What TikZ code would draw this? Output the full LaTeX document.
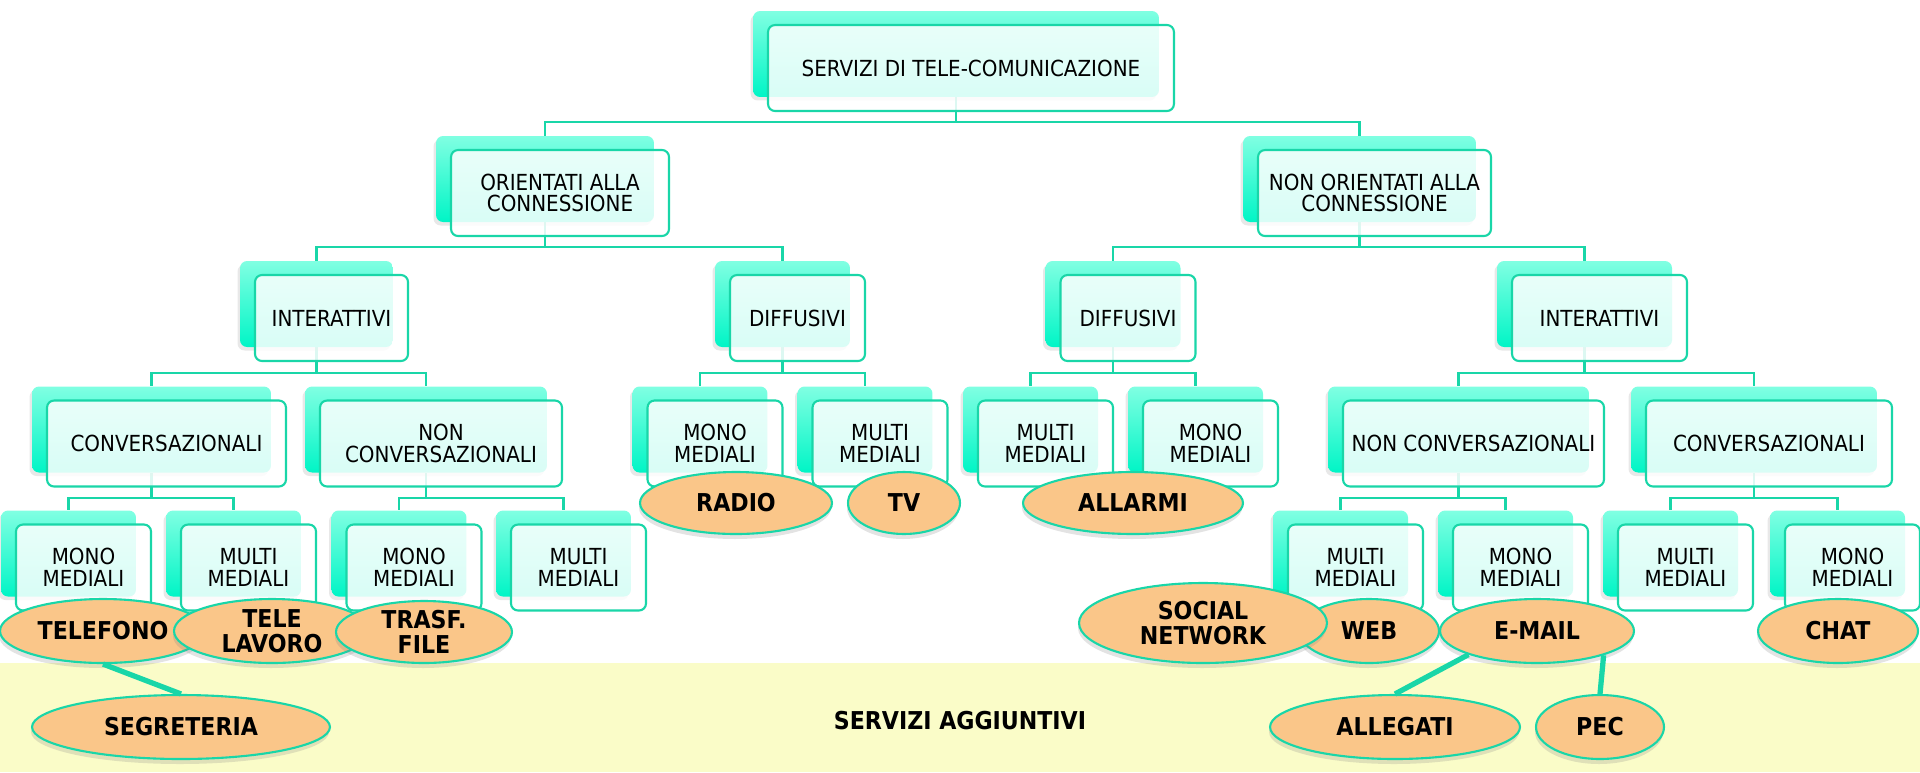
\documentclass[tikz,border=0pt]{standalone}
\usepackage{fontspec}
\setmainfont{DejaVu Sans Condensed}
\usetikzlibrary{shapes.geometric,shadows,backgrounds}
\definecolor{aqtop}{RGB}{128,255,226}
\definecolor{aqbot}{RGB}{0,245,198}
\definecolor{tealb}{RGB}{25,214,168}
\definecolor{ovalc}{RGB}{250,198,137}
\definecolor{bandc}{RGB}{250,252,200}
\begin{document}
\begin{tikzpicture}[x=0.02cm, y=-0.02cm,
  backbox/.style={rectangle, rounded corners=0.14cm, top color=aqtop, bottom color=aqbot, minimum width=2.7cm, minimum height=1.72cm, inner sep=0pt, drop shadow={shadow xshift=-0.05cm, shadow yshift=-0.07cm, opacity=0.18}},
  frontbox/.style={rectangle, rounded corners=0.14cm, draw=tealb, line width=1.2pt, fill=white, fill opacity=0.85, text opacity=1, minimum width=2.7cm, minimum height=1.72cm, inner sep=0pt, align=center, font=\fontsize{12.6}{12.4}\selectfont},
  oval/.style={ellipse, draw=tealb, line width=1.2pt, fill=ovalc, inner sep=0pt, align=center, minimum height=1.28cm, font=\bfseries\fontsize{14}{14.4}\selectfont, drop shadow={shadow xshift=-0.02cm, shadow yshift=-0.1cm, opacity=0.22}},
  link/.style={draw=tealb, line width=1.2pt},
  tie/.style={draw=tealb, line width=3pt}]
\useasboundingbox (0,0) rectangle (1920,772);
% fascia servizi aggiuntivi
\fill[bandc] (0,663) rectangle (1920,772);
\node[font=\bfseries\fontsize{14}{14.4}\selectfont] (agg) at (960,721) {SERVIZI AGGIUNTIVI};
% livello 1
\node[backbox, minimum width=8.12cm] (top-b) at (956,54) {};
\node[frontbox, minimum width=8.12cm] (top) at ([shift={(15,14)}]top-b) {SERVIZI DI TELE-COMUNICAZIONE};
% livello 2
\node[backbox, minimum width=4.36cm] (ori-b) at (545,179) {};
\node[frontbox, minimum width=4.36cm] (ori) at ([shift={(15,14)}]ori-b) {ORIENTATI ALLA\\CONNESSIONE};
\node[backbox, minimum width=4.66cm] (nori-b) at (1359.5,179) {};
\node[frontbox, minimum width=4.66cm] (nori) at ([shift={(15,14)}]nori-b) {NON ORIENTATI ALLA\\CONNESSIONE};
% livello 3
\node[backbox, minimum width=3.06cm] (intL-b) at (316.5,304) {};
\node[frontbox, minimum width=3.06cm] (intL) at ([shift={(15,14)}]intL-b) {INTERATTIVI};
\node[backbox] (difL-b) at (782.5,304) {};
\node[frontbox] (difL) at ([shift={(15,14)}]difL-b) {DIFFUSIVI};
\node[backbox] (difR-b) at (1113,304) {};
\node[frontbox] (difR) at ([shift={(15,14)}]difR-b) {DIFFUSIVI};
\node[backbox, minimum width=3.5cm] (intR-b) at (1584.5,304) {};
\node[frontbox, minimum width=3.5cm] (intR) at ([shift={(15,14)}]intR-b) {INTERATTIVI};
% livello 4
\node[backbox, minimum width=4.78cm] (convL-b) at (151.5,429.5) {};
\node[frontbox, minimum width=4.78cm] (convL) at ([shift={(15,14)}]convL-b) {CONVERSAZIONALI};
\node[backbox, minimum width=4.84cm] (nconvL-b) at (426,429.5) {};
\node[frontbox, minimum width=4.84cm] (nconvL) at ([shift={(15,14)}]nconvL-b) {NON\\CONVERSAZIONALI};
\node[backbox] (monoA-b) at (700,429.5) {};
\node[frontbox] (monoA) at ([shift={(15,14)}]monoA-b) {MONO\\MEDIALI};
\node[backbox] (multiA-b) at (865,429.5) {};
\node[frontbox] (multiA) at ([shift={(15,14)}]multiA-b) {MULTI\\MEDIALI};
\node[backbox] (multiB-b) at (1030.5,429.5) {};
\node[frontbox] (multiB) at ([shift={(15,14)}]multiB-b) {MULTI\\MEDIALI};
\node[backbox] (monoB-b) at (1195.5,429.5) {};
\node[frontbox] (monoB) at ([shift={(15,14)}]monoB-b) {MONO\\MEDIALI};
\node[backbox, minimum width=5.22cm] (nconvR-b) at (1458.5,429.5) {};
\node[frontbox, minimum width=5.22cm] (nconvR) at ([shift={(15,14)}]nconvR-b) {NON CONVERSAZIONALI};
\node[backbox, minimum width=4.92cm] (convR-b) at (1754,429.5) {};
\node[frontbox, minimum width=4.92cm] (convR) at ([shift={(15,14)}]convR-b) {CONVERSAZIONALI};
% livello 5
\node[backbox] (mono1-b) at (68.5,553.5) {};
\node[frontbox] (mono1) at ([shift={(15,14)}]mono1-b) {MONO\\MEDIALI};
\node[backbox] (multi1-b) at (233.5,553.5) {};
\node[frontbox] (multi1) at ([shift={(15,14)}]multi1-b) {MULTI\\MEDIALI};
\node[backbox] (mono2-b) at (399,553.5) {};
\node[frontbox] (mono2) at ([shift={(15,14)}]mono2-b) {MONO\\MEDIALI};
\node[backbox] (multi2-b) at (563.5,553.5) {};
\node[frontbox] (multi2) at ([shift={(15,14)}]multi2-b) {MULTI\\MEDIALI};
\node[backbox] (multi3-b) at (1340.5,553.5) {};
\node[frontbox] (multi3) at ([shift={(15,14)}]multi3-b) {MULTI\\MEDIALI};
\node[backbox] (mono3-b) at (1505.5,553.5) {};
\node[frontbox] (mono3) at ([shift={(15,14)}]mono3-b) {MONO\\MEDIALI};
\node[backbox] (multi4-b) at (1670.5,553.5) {};
\node[frontbox] (multi4) at ([shift={(15,14)}]multi4-b) {MULTI\\MEDIALI};
\node[backbox] (mono4-b) at (1837.5,553.5) {};
\node[frontbox] (mono4) at ([shift={(15,14)}]mono4-b) {MONO\\MEDIALI};
% collegamenti
\begin{scope}[on background layer]
\draw[link] (top-b) -- (top-b |- 0,122) -| (ori-b.north);
\draw[link] (top-b |- 0,122) -| (nori-b.north);
\draw[link] (ori-b) -- (ori-b |- 0,247) -| (intL-b.north);
\draw[link] (ori-b |- 0,247) -| (difL-b.north);
\draw[link] (nori-b) -- (nori-b |- 0,247) -| (difR-b.north);
\draw[link] (nori-b |- 0,247) -| (intR-b.north);
\draw[link] (intL-b) -- (intL-b |- 0,373) -| (convL-b.north);
\draw[link] (intL-b |- 0,373) -| (nconvL-b.north);
\draw[link] (difL-b) -- (difL-b |- 0,373) -| (monoA-b.north);
\draw[link] (difL-b |- 0,373) -| (multiA-b.north);
\draw[link] (difR-b) -- (difR-b |- 0,373) -| (multiB-b.north);
\draw[link] (difR-b |- 0,373) -| (monoB-b.north);
\draw[link] (intR-b) -- (intR-b |- 0,373) -| (nconvR-b.north);
\draw[link] (intR-b |- 0,373) -| (convR-b.north);
\draw[link] (convL-b) -- (convL-b |- 0,498) -| (mono1-b.north);
\draw[link] (convL-b |- 0,498) -| (multi1-b.north);
\draw[link] (nconvL-b) -- (nconvL-b |- 0,498) -| (mono2-b.north);
\draw[link] (nconvL-b |- 0,498) -| (multi2-b.north);
\draw[link] (nconvR-b) -- (nconvR-b |- 0,498) -| (multi3-b.north);
\draw[link] (nconvR-b |- 0,498) -| (mono3-b.north);
\draw[link] (convR-b) -- (convR-b |- 0,498) -| (multi4-b.north);
\draw[link] (convR-b |- 0,498) -| (mono4-b.north);
\end{scope}
% servizi
\node[oval, minimum width=4.12cm] (telefono) at (103,631) {TELEFONO};
\node[oval, minimum width=3.92cm] (telelav) at (272,631) {TELE\\LAVORO};
\node[oval, minimum width=3.52cm, minimum height=1.24cm] (trasf) at (424,632) {TRASF.\\FILE};
\node[oval, minimum width=3.84cm, minimum height=1.24cm] (radio) at (736,503) {RADIO};
\node[oval, minimum width=2.24cm, minimum height=1.24cm] (tv) at (904,503) {TV};
\node[oval, minimum width=4.4cm, minimum height=1.24cm] (allarmi) at (1133,503) {ALLARMI};
\node[oval, minimum width=2.8cm] (web) at (1369,631) {WEB};
\node[oval, minimum width=3.88cm] (email) at (1537,631) {E-MAIL};
\node[oval, minimum width=4.96cm, minimum height=1.6cm] (social) at (1203,623) {SOCIAL\\NETWORK};
\node[oval, minimum width=3.2cm] (chat) at (1838,631) {CHAT};
\node[oval, minimum width=5.96cm] (segret) at (181,727) {SEGRETERIA};
\node[oval, minimum width=5cm] (allegati) at (1395,727) {ALLEGATI};
\node[oval, minimum width=2.56cm] (pec) at (1600,727) {PEC};
\draw[tie] (telefono.south) -- (segret.north);
\draw[tie] (email.199) -- (allegati.north);
\draw[tie] (email.340) -- (pec.north);
\end{tikzpicture}
\end{document}
